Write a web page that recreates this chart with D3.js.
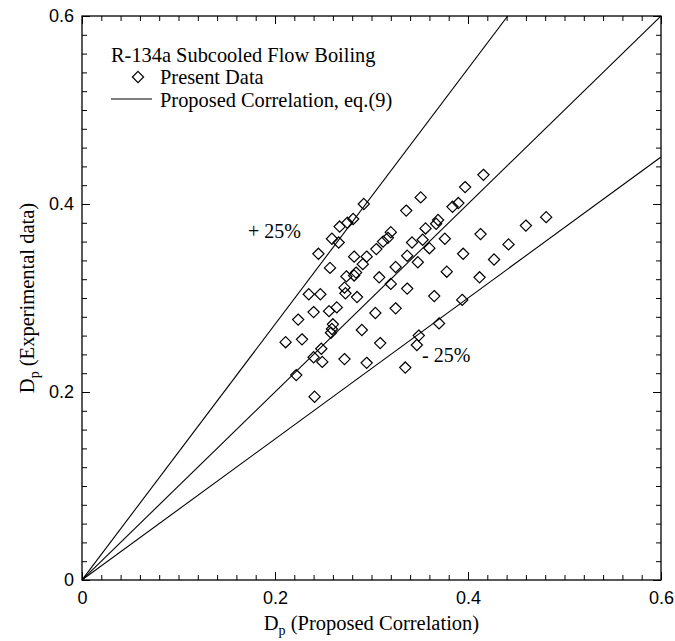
<!DOCTYPE html>
<html>
<head>
<meta charset="utf-8">
<script src="https://cdn.jsdelivr.net/npm/d3@7"></script>
<style>
  body { margin: 0; background: #fff; }
  svg { display: block; }
  .tick text { font-family: "Liberation Sans", Arial, sans-serif; font-size: 18px; fill: #000; }
  .serif { font-family: "Liberation Serif", "Times New Roman", serif; fill: #000; }
</style>
</head>
<body>
<svg id="chart" width="675" height="641"></svg>
<script>
// D_p proposed correlation (x) vs D_p experimental (y)
const dpPredicted = [
  0.245, 0.259, 0.267, 0.266, 0.275, 0.281, 0.292, 0.257, 0.274, 0.282,
  0.284, 0.282, 0.295, 0.291, 0.305, 0.312, 0.317, 0.320, 0.336, 0.351,
  0.342, 0.353, 0.356, 0.360, 0.367, 0.369, 0.376, 0.384, 0.390, 0.397,
  0.416, 0.413, 0.395, 0.427, 0.337, 0.348, 0.325, 0.378, 0.412, 0.308,
  0.320, 0.337, 0.481, 0.460, 0.442, 0.394, 0.272, 0.273, 0.285, 0.365,
  0.325, 0.304, 0.290, 0.370, 0.309, 0.349, 0.347, 0.272, 0.295, 0.335,
  0.235, 0.247, 0.240, 0.256, 0.264, 0.224, 0.260, 0.259, 0.258, 0.211,
  0.228, 0.248, 0.240, 0.249, 0.222, 0.241
];
const dpMeasured = [
  0.347, 0.363, 0.376, 0.359, 0.380, 0.384, 0.400, 0.332, 0.323, 0.324,
  0.327, 0.344, 0.344, 0.336, 0.352, 0.360, 0.364, 0.370, 0.393, 0.407,
  0.359, 0.362, 0.374, 0.353, 0.379, 0.383, 0.363, 0.397, 0.401, 0.418,
  0.431, 0.368, 0.347, 0.341, 0.345, 0.338, 0.333, 0.328, 0.322, 0.322,
  0.315, 0.310, 0.386, 0.377, 0.357, 0.298, 0.311, 0.305, 0.301, 0.302,
  0.289, 0.284, 0.266, 0.273, 0.252, 0.260, 0.250, 0.235, 0.231, 0.226,
  0.304, 0.304, 0.285, 0.286, 0.290, 0.277, 0.272, 0.267, 0.263, 0.253,
  0.256, 0.246, 0.237, 0.232, 0.218, 0.195
];

// reference lines through the origin: +25 %, correlation, -25 %
const lineSlopes = [1.36, 1.0, 0.75];
const tickValues = [0, 0.2, 0.4, 0.6];
const minorTicks = d3.range(0, 31).map(i => i * 0.02);

const svg = d3.select('#chart');
const margin = { top: 16, right: 14, bottom: 61, left: 82 };
const width = 675 - margin.left - margin.right;
const height = 641 - margin.top - margin.bottom;

const chart = svg.append('g')
  .attr('transform', `translate(${margin.left}, ${margin.top})`);

const x = d3.scaleLinear().domain([0, 0.6]).range([0, width]);
const y = d3.scaleLinear().domain([0, 0.6]).range([height, 0]);

chart.append('defs').append('clipPath').attr('id', 'plot-clip')
  .append('rect').attr('width', width).attr('height', height);

/* correlation lines */
chart.append('g')
  .attr('clip-path', 'url(#plot-clip)')
  .selectAll('line')
  .data(lineSlopes)
  .enter()
  .append('line')
  .attr('x1', x(0))
  .attr('y1', y(0))
  .attr('x2', s => x(Math.min(0.6, 0.6 / s)))
  .attr('y2', s => y(Math.min(0.6, 0.6 / s) * s))
  .attr('stroke', '#000')
  .attr('stroke-width', 1.1);

/* data points, open diamonds */
const diamond = 'M0,-5.6L5.6,0L0,5.6L-5.6,0Z';
chart.append('g')
  .selectAll('path')
  .data(dpPredicted.map((v, i) => [v, dpMeasured[i]]))
  .enter()
  .append('path')
  .attr('d', diamond)
  .attr('transform', d => `translate(${x(d[0])}, ${y(d[1])})`)
  .attr('fill', 'none')
  .attr('stroke', '#000')
  .attr('stroke-width', 1.2);

/* ticks, inward on all four sides */
function tickSet (axis, size, vals) {
  return axis.tickValues(vals).tickSize(size).tickFormat('');
}
const majors = tickValues;
chart.append('g').attr('transform', `translate(0, ${height})`)
  .call(tickSet(d3.axisBottom(x), -5, minorTicks));
chart.append('g').attr('transform', `translate(0, ${height})`)
  .call(tickSet(d3.axisBottom(x), -8, majors));
chart.append('g')
  .call(tickSet(d3.axisTop(x), -5, minorTicks));
chart.append('g')
  .call(tickSet(d3.axisTop(x), -8, majors));
chart.append('g')
  .call(tickSet(d3.axisLeft(y), -5, minorTicks));
chart.append('g')
  .call(tickSet(d3.axisLeft(y), -8, majors));
chart.append('g').attr('transform', `translate(${width}, 0)`)
  .call(tickSet(d3.axisRight(y), -5, minorTicks));
chart.append('g').attr('transform', `translate(${width}, 0)`)
  .call(tickSet(d3.axisRight(y), -8, majors));
chart.selectAll('.domain').remove();
chart.selectAll('.tick line').attr('stroke', '#000').attr('stroke-width', 1);

/* tick labels */
const fmt = d => d === 0 ? '0' : d3.format('.1f')(d);
chart.append('g').attr('transform', `translate(0, ${height})`)
  .call(d3.axisBottom(x).tickValues(tickValues).tickSize(0).tickPadding(11).tickFormat(fmt))
  .select('.domain').remove();
chart.append('g')
  .call(d3.axisLeft(y).tickValues(tickValues).tickSize(0).tickPadding(8).tickFormat(fmt))
  .select('.domain').remove();

/* frame */
chart.append('rect')
  .attr('width', width)
  .attr('height', height)
  .attr('fill', 'none')
  .attr('stroke', '#000')
  .attr('stroke-width', 1.3);

/* band labels */
chart.append('text').attr('class', 'serif')
  .attr('x', 166).attr('y', 222)
  .attr('font-size', 20)
  .text('+ 25%');
chart.append('text').attr('class', 'serif')
  .attr('x', 340).attr('y', 346)
  .attr('font-size', 20)
  .text('- 25%');

/* legend */
const legend = chart.append('g').attr('transform', 'translate(29, 0)');
legend.append('text').attr('class', 'serif')
  .attr('x', 0).attr('y', 46).attr('font-size', 20.4)
  .text('R-134a Subcooled Flow Boiling');
legend.append('path')
  .attr('d', diamond)
  .attr('transform', 'translate(27, 61)')
  .attr('fill', 'none').attr('stroke', '#000').attr('stroke-width', 1.2);
legend.append('text').attr('class', 'serif')
  .attr('x', 49).attr('y', 68).attr('font-size', 20.4)
  .text('Present Data');
legend.append('line')
  .attr('x1', 0).attr('x2', 41).attr('y1', 83).attr('y2', 83)
  .attr('stroke', '#000').attr('stroke-width', 1.1);
legend.append('text').attr('class', 'serif')
  .attr('x', 49).attr('y', 90.5).attr('font-size', 20.4)
  .text('Proposed Correlation, eq.(9)');

/* axis titles */
const xTitle = svg.append('text').attr('class', 'serif')
  .attr('x', margin.left + width / 2).attr('y', 630)
  .attr('text-anchor', 'middle').attr('font-size', 20.5);
xTitle.append('tspan').text('D');
xTitle.append('tspan').attr('dy', 5).attr('font-size', 14).text('p');
xTitle.append('tspan').attr('dy', -5).text(' (Proposed Correlation)');

const yTitle = svg.append('text').attr('class', 'serif')
  .attr('transform', `translate(34, ${margin.top + height / 2}) rotate(-90)`)
  .attr('text-anchor', 'middle').attr('font-size', 20.5);
yTitle.append('tspan').text('D');
yTitle.append('tspan').attr('dy', 5).attr('font-size', 14).text('p');
yTitle.append('tspan').attr('dy', -5).text(' (Experimental data)');
</script>
</body>
</html>
